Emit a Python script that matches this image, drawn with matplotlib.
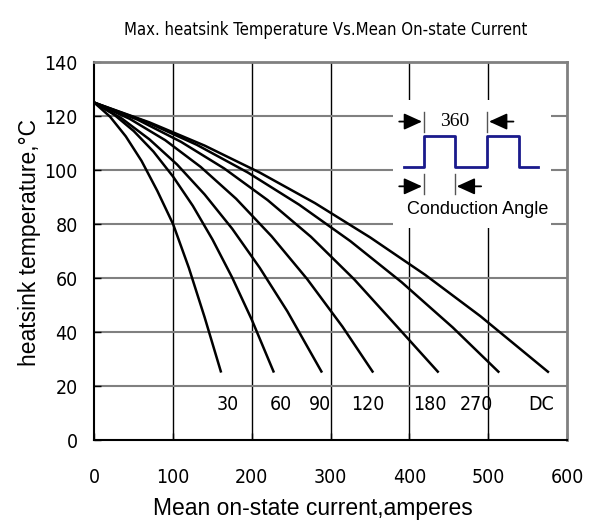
import matplotlib.pyplot as plt
from matplotlib import font_manager

# curve data: mean current (A) vs heatsink temperature (C)
angles = ["30", "60", "90", "120", "180", "270", "DC"]
current_30 = [0, 20, 40, 60, 80, 100, 120, 140, 161]
temp_30 = [125, 119.8, 112.5, 103.4, 92.3, 80.0, 63.8, 45.5, 25]
current_60 = [0, 25, 50, 75, 100, 125, 150, 175, 200, 228]
temp_60 = [125, 120.6, 114.5, 106.9, 97.6, 86.8, 74.3, 60.2, 44.5, 25]
current_90 = [0, 35, 70, 105, 140, 175, 210, 245, 289]
temp_90 = [125, 119.1, 111.4, 102.1, 91.0, 78.3, 63.8, 47.7, 25]
current_120 = [0, 45, 90, 135, 180, 225, 270, 315, 354]
temp_120 = [125, 119.0, 111.1, 101.2, 89.4, 75.5, 59.7, 42.0, 25]
current_180 = [0, 55, 110, 165, 220, 275, 330, 385, 437]
temp_180 = [125, 118.7, 110.5, 100.6, 88.9, 75.3, 59.5, 41.8, 25]
current_270 = [0, 65, 130, 195, 260, 325, 390, 455, 514]
temp_270 = [125, 118.0, 109.4, 99.1, 87.2, 73.7, 58.5, 41.7, 25]
current_dc = [0, 70, 140, 210, 280, 350, 420, 490, 577]
temp_dc = [125, 117.7, 109.1, 99.1, 87.8, 75.1, 61.2, 45.9, 25]

label_x = [170, 237, 286, 347, 426, 485, 567]
label_y = 13

xticks = [0, 100, 200, 300, 400, 500, 600]
yticks = [0, 20, 40, 60, 80, 100, 120, 140]

# conduction-angle sketch (square wave)
wave_x = [393, 418, 418, 458, 458, 499, 499, 539, 539, 563]
wave_y = [101, 101, 112.6, 112.6, 101, 101, 112.6, 112.6, 101, 101]

plt.rcParams["font.family"] = ["Liberation Sans", "DejaVu Sans"]

# narrow face for title and tick labels, if one is there
fonts = font_manager.fontManager.ttflist
if any(f.name == "Liberation Sans Narrow" for f in fonts):
    narrow = dict(family=["Liberation Sans Narrow", "DejaVu Sans"])
    title_size, tick_size = 13.5, 15
elif any(f.name == "DejaVu Sans" and f.stretch == "condensed" for f in fonts):
    narrow = dict(family=["DejaVu Sans"], stretch="condensed")
    title_size, tick_size = 12, 14
else:
    narrow = dict(family=["Liberation Sans"])
    title_size, tick_size = 11.3, 14

fig = plt.figure(figsize=(5.95, 5.27), dpi=100)
ax = fig.add_axes([0.1585, 0.165, 0.7945, 0.717])

curves = [(current_30, temp_30), (current_60, temp_60), (current_90, temp_90),
          (current_120, temp_120), (current_180, temp_180),
          (current_270, temp_270), (current_dc, temp_dc)]
for cx, cy in curves:
    ax.plot(cx, cy, color="black", lw=1.8, solid_capstyle="butt", zorder=3)

for lab, lx in zip(angles, label_x):
    ax.text(lx, label_y, lab, ha="center", va="center", fontsize=tick_size,
            zorder=4, **narrow)

ax.set_xlim(0, 600)
ax.set_ylim(0, 140)
ax.set_xticks(xticks)
ax.set_yticks(yticks)
for v in xticks[1:-1]:
    ax.axvline(v, color="black", lw=1.0, zorder=1)
for v in yticks[1:-1]:
    ax.axhline(v, color="#808080", lw=1.5, zorder=1)

ax.tick_params(direction="in", length=5, width=1, pad=20)
ax.tick_params(axis="y", pad=12)
for t in ax.get_xticklabels() + ax.get_yticklabels():
    t.set_fontsize(tick_size)
    t.set_family(narrow["family"])
    if "stretch" in narrow:
        t.set_stretch(narrow["stretch"])
ax.spines["left"].set_linewidth(1.5)
ax.spines["bottom"].set_linewidth(1.5)
for s in ["top", "right"]:
    ax.spines[s].set_color("#808080")
    ax.spines[s].set_linewidth(2)

# white patch behind the inset sketch
ax.add_patch(plt.Rectangle((379, 78.5), 201, 47.5, facecolor="white",
                           edgecolor="none", zorder=2))
ax.plot(wave_x, wave_y, color="#1a1a8c", lw=2, zorder=4)

arrow = dict(arrowstyle="-|>,head_length=0.55,head_width=0.25", color="black",
             lw=1.3, mutation_scale=20, shrinkA=0, shrinkB=0)
ax.annotate("", xy=(416, 118), xytext=(387, 118), arrowprops=arrow, zorder=4)
ax.annotate("", xy=(501, 118), xytext=(532, 118), arrowprops=arrow, zorder=4)
ax.annotate("", xy=(416, 94), xytext=(387, 94), arrowprops=arrow, zorder=4)
ax.annotate("", xy=(460, 94), xytext=(491, 94), arrowprops=arrow, zorder=4)
for bx, y0, y1 in [(418, 114, 121.5), (499, 114, 121.5), (418, 91, 98.5), (458, 91, 98.5)]:
    ax.plot([bx, bx], [y0, y1], color="#555555", lw=1, zorder=4)
ax.text(458, 118, "360", ha="center", va="center", fontsize=14,
        family=["Liberation Serif", "DejaVu Serif"], zorder=4)
ax.text(487, 85.4, "Conduction Angle", ha="center", va="center", fontsize=13, zorder=4)

fig.text(313 / 595, 1 - 508 / 527, "Mean on-state current,amperes",
         ha="center", va="center", fontsize=16.5)
fig.text(30 / 595, 1 - 242 / 527, "heatsink temperature,°C", rotation=90,
         ha="center", va="center", fontsize=16.5)
fig.text(325.5 / 595, 1 - 30 / 527, "Max. heatsink Temperature Vs.Mean On-state Current",
         ha="center", va="center", fontsize=title_size, **narrow)

fig.savefig("out.png", dpi=100)
